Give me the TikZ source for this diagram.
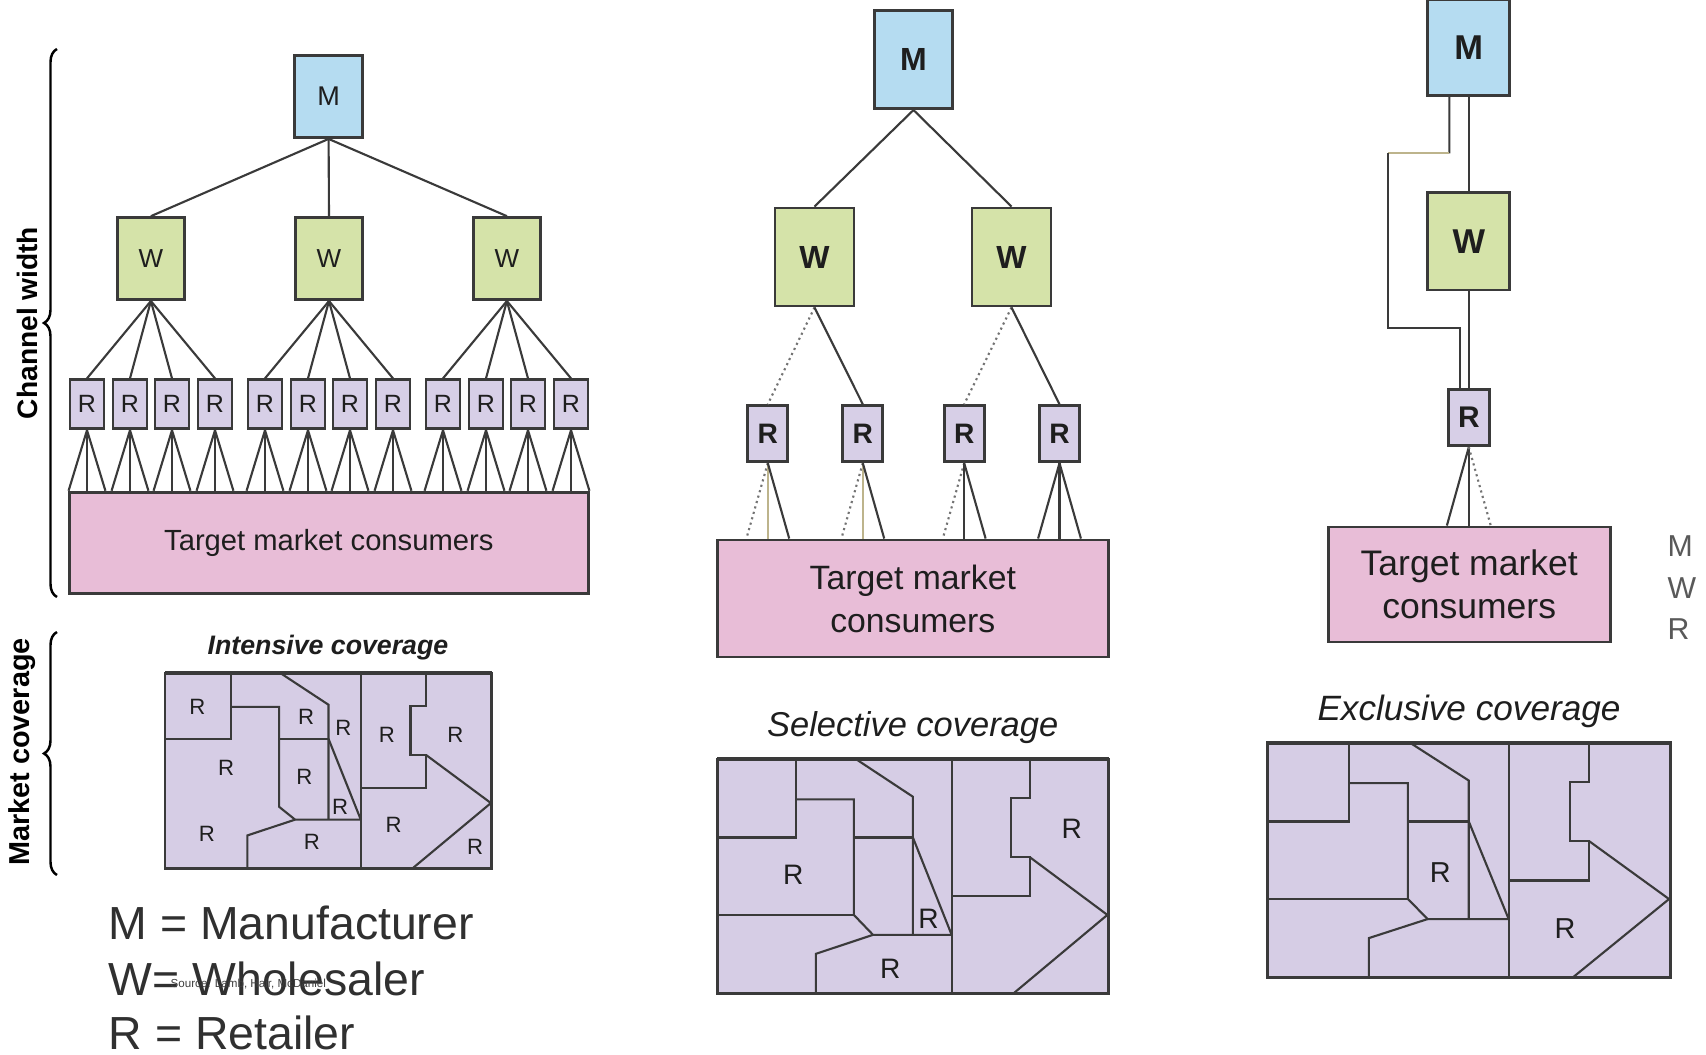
\documentclass[tikz,border=0pt]{standalone}
\usepackage{fontspec}
\setmainfont{Liberation Sans}
\usetikzlibrary{decorations.pathreplacing,calc}

\definecolor{edgecol}{HTML}{3A3A3A}
\definecolor{mblue}{HTML}{B5DCF1}
\definecolor{wgreen}{HTML}{D5E3A9}
\definecolor{rlav}{HTML}{D7CFE7}
\definecolor{tpink}{HTML}{E8BDD7}
\definecolor{mapfill}{HTML}{D6CDE5}
\definecolor{inkcol}{HTML}{1E1E1E}
\definecolor{keygray}{HTML}{303030}
\definecolor{tanline}{HTML}{BDB48C}

\newcommand\ptsize[1]{\fontsize{#1}{#1}\selectfont}

\tikzset{
  chanbox/.style={draw=edgecol, line width=0.8pt, inner sep=0pt, text=inkcol},
  mfac/.style={chanbox, fill=mblue},
  wsale/.style={chanbox, fill=wgreen},
  rtail/.style={chanbox, fill=rlav},
  market/.style={chanbox, fill=tpink, align=center},
  link/.style={draw=edgecol, line width=0.6pt},
  faintlink/.style={draw=black!55, line width=0.6pt, densely dotted},
  tanlink/.style={draw=tanline, line width=0.6pt},
  curly/.style={decorate, decoration={brace, amplitude=0.13cm}, draw=black, line width=0.7pt},
  mapline/.style={draw=edgecol, line width=0.6pt},
  maplabel/.style={inner sep=0pt, text=inkcol},
  sidetitle/.style={rotate=90, inner sep=0pt, text=black, font=\bfseries\ptsize{8.2}},
}

% territory map drawn in a unit square (0,0) top-left .. (1,1) bottom-right;
% #1 = lower end of the inner vertical border
\newcommand\coveragemap[1]{%
  \fill[mapfill] (0,0) rectangle (1,1);
  \draw[mapline] (.599,0) -- (.599,1);
  \draw[mapline] (.202,0) -- (.202,.335) -- (0,.335);
  \draw[mapline] (.202,.172) -- (.349,.172) -- (.349,#1) -- (.398,.750) -- (.599,.750);
  \draw[mapline] (.349,.335) -- (.500,.335);
  \draw[mapline] (.354,0) -- (.500,.161) -- (.500,.750);
  \draw[mapline] (.500,.335) -- (.599,.750);
  \draw[mapline] (.398,.750) -- (.252,.831) -- (.252,1);
  \draw[mapline] (.799,0) -- (.799,.167) -- (.751,.167) -- (.751,.419) -- (.799,.419) -- (.799,.586) -- (.599,.586);
  \draw[mapline] (.799,.419) -- (.997,.665) -- (.757,1);
  \draw[mapline, line width=0.8pt] (0,0) rectangle (1,1);
  \draw[mapline, line width=1.1pt] (0,0) -- (1,0);
}

\begin{document}
\begin{tikzpicture}[x=0.01cm, y=-0.01cm]
\useasboundingbox (0,0) rectangle (1706,1055);
\fill[white] (0,0) rectangle (1706,1055);
\clip (0,0) rectangle (1706,1055);

% ---------------- intensive distribution ----------------
\node[mfac, minimum width=0.68cm, minimum height=0.82cm, font=\ptsize{7.7}] (L-M) at (328.6,96.5) {M};
\foreach \i/\x in {1/150.9, 2/329, 3/506.9}
  \node[wsale, minimum width=0.67cm, minimum height=0.82cm, font=\ptsize{7.4}] (L-W\i) at (\x,258.6) {W};
\foreach \i/\x in {1/87,2/130,3/172,4/215,5/265,6/308,7/350,8/393,9/443,10/486,11/528,12/571}
  \node[rtail, minimum width=0.34cm, minimum height=0.49cm, font=\ptsize{7.1}] (L-R\i) at (\x,404.3) {R};
\node[market, minimum width=5.19cm, minimum height=1.01cm, font=\ptsize{8.3}] (L-P) at (328.8,542.7) {Target market consumers};

\foreach \i in {1,2,3} \draw[link] (L-M.south) -- (L-W\i.north);
\foreach \w/\r in {1/1,1/2,1/3,1/4,2/5,2/6,2/7,2/8,3/9,3/10,3/11,3/12}
  \draw[link] (L-W\w.south) -- (L-R\r.north);
\foreach \r in {1,...,12} {
  \draw[link] (L-R\r.south) -- (L-R\r.south west |- L-P.north);
  \draw[link] (L-R\r.south) -- (L-R\r.south |- L-P.north);
  \draw[link] (L-R\r.south) -- (L-R\r.south east |- L-P.north);
}

% side braces and titles
\coordinate (chanBot) at (57,597);
\coordinate (chanTop) at (57,49);
\draw[curly] (chanBot) -- (chanTop);
\node[sidetitle, font=\bfseries\ptsize{8}] (chanTitle) at (27,323) {Channel width};
\coordinate (covBot) at (57,875);
\coordinate (covTop) at (57,632);
\draw[curly] (covBot) -- (covTop);
\node[sidetitle] (covTitle) at (22,752) {Market coverage};

% intensive coverage map
\node[inner sep=0pt, font=\bfseries\itshape\ptsize{7.6}, text=inkcol] (intTitle) at (328,648) {Intensive coverage};
\begin{scope}[shift={(165,673.3)}, x=3.267cm, y=-1.95cm]
  \coveragemap{.684}
  \foreach \u/\v [count=\k] in {.099/.174, .432/.222, .546/.282, .679/.316, .888/.316, .187/.487,
                   .426/.530, .536/.684, .128/.821, .449/.863, .699/.778, .949/.889}
    \node[maplabel, font=\ptsize{6.3}] (int-r\k) at (\u,\v) {R};
\end{scope}

% key
\node[anchor=base west, inner sep=0pt, text=keygray, font=\ptsize{13.2}] (key-m) at (108,939) {M = Manufacturer};
\node[anchor=base west, inner sep=0pt, text=keygray, font=\ptsize{13.2}] (key-w) at (108,995) {W= Wholesaler};
\node[anchor=base west, inner sep=0pt, text=keygray, font=\ptsize{13.2}] (key-r) at (108,1049) {R = Retailer};
\node[anchor=west, inner sep=0pt, text=black!75, font=\ptsize{3.3}] (srcnote) at (170,984) {Source: Lamb, Hair, McDaniel};

% ---------------- selective distribution ----------------
\node[mfac, minimum width=0.78cm, minimum height=0.98cm, font=\bfseries\ptsize{9.1}] (C-M) at (913.5,59.6) {M};
\node[wsale, minimum width=0.79cm, minimum height=0.98cm, font=\bfseries\ptsize{9.1}] (C-W1) at (814.5,257) {W};
\node[wsale, minimum width=0.79cm, minimum height=0.98cm, font=\bfseries\ptsize{9.1}] (C-W2) at (1011.5,257) {W};
\foreach \i/\x in {1/767.8, 2/862.8, 3/964.2, 4/1059.5}
  \node[rtail, minimum width=0.40cm, minimum height=0.56cm, font=\bfseries\ptsize{8}] (C-R\i) at (\x,433.7) {R};
\node[market, minimum width=3.91cm, minimum height=1.17cm, font=\ptsize{9.6}] (C-P) at (912.8,598.5) {Target market\\[2.6pt]consumers};

\draw[link] (C-M.south) -- (C-W1.north);
\draw[link] (C-M.south) -- (C-W2.north);
\draw[faintlink] (C-W1.south) -- (C-R1.north);
\draw[link] (C-W1.south) -- (C-R2.north);
\draw[faintlink] (C-W2.south) -- (C-R3.north);
\draw[link] (C-W2.south) -- (C-R4.north);
\foreach \r/\lsty/\msty in {1/faintlink/tanlink, 2/faintlink/tanlink, 3/faintlink/link, 4/link/link} {
  \draw[\lsty] (C-R\r.south) -- (C-R\r.south west |- C-P.north);
  \draw[\msty] (C-R\r.south) -- (C-R\r.south |- C-P.north);
  \draw[link] (C-R\r.south) -- (C-R\r.south east |- C-P.north);
}

\node[inner sep=0pt, font=\itshape\ptsize{9.8}, text=inkcol] (selTitle) at (912.7,728) {Selective coverage};
\begin{scope}[shift={(717.3,759)}, x=3.91cm, y=-2.343cm]
  \coveragemap{.665}
  \draw[mapline] (0,.665) -- (.349,.665);
  \foreach \u/\v [count=\k] in {.194/.495, .540/.680, .442/.893, .906/.296}
    \node[maplabel, font=\ptsize{8}] (sel-r\k) at (\u,\v) {R};
\end{scope}

% ---------------- exclusive distribution ----------------
\node[mfac, minimum width=0.82cm, minimum height=0.96cm, font=\bfseries\ptsize{9.8}] (E-M) at (1468.8,47.7) {M};
\node[wsale, minimum width=0.82cm, minimum height=0.97cm, font=\bfseries\ptsize{9.8}] (E-W) at (1468.8,241.4) {W};
\node[rtail, minimum width=0.41cm, minimum height=0.56cm, font=\bfseries\ptsize{8.5}] (E-R) at (1468.8,417.7) {R};
\node[market, minimum width=2.82cm, minimum height=1.15cm, font=\ptsize{10.1}] (E-P) at (1469.2,584.5) {Target market\\[2.2pt]consumers};

\draw[link] (E-M.south) -- (E-W.north);
\draw[link] (E-W.south) -- (E-R.north);
\coordinate (byNE) at (1449.3,153.3);
\coordinate (byNW) at (1388.3,153.3);
\coordinate (bySW) at (1388.3,328.3);
\draw[link] ([xshift=-1.95mm]E-M.south) -- (byNE);
\draw[tanlink] (byNE) -- (byNW);
\draw[link] (byNW) -- (bySW) -| ([xshift=-0.88mm]E-R.north);
\draw[link] (E-R.south) -- (E-R.south west |- E-P.north);
\draw[link] (E-R.south) -- (E-R.south |- E-P.north);
\draw[faintlink] (E-R.south) -- (E-R.south east |- E-P.north);

\node[inner sep=0pt, font=\itshape\ptsize{10}, text=inkcol] (excTitle) at (1469,711) {Exclusive coverage};
\begin{scope}[shift={(1267.3,742.7)}, x=4.027cm, y=-2.35cm]
  \coveragemap{.665}
  \draw[mapline] (0,.665) -- (.349,.665);
  \foreach \u/\v [count=\k] in {.429/.553, .739/.790}
    \node[maplabel, font=\ptsize{8.2}] (exc-r\k) at (\u,\v) {R};
\end{scope}

% key letters at the right margin
\node[anchor=west, inner sep=0pt, text=black!65, font=\ptsize{8.6}] (key2-m) at (1667,546.5) {M};
\node[anchor=west, inner sep=0pt, text=black!65, font=\ptsize{8.6}] (key2-w) at (1667,587.6) {W};
\node[anchor=west, inner sep=0pt, text=black!65, font=\ptsize{8.6}] (key2-r) at (1667,629) {R};
\end{tikzpicture}
\end{document}
